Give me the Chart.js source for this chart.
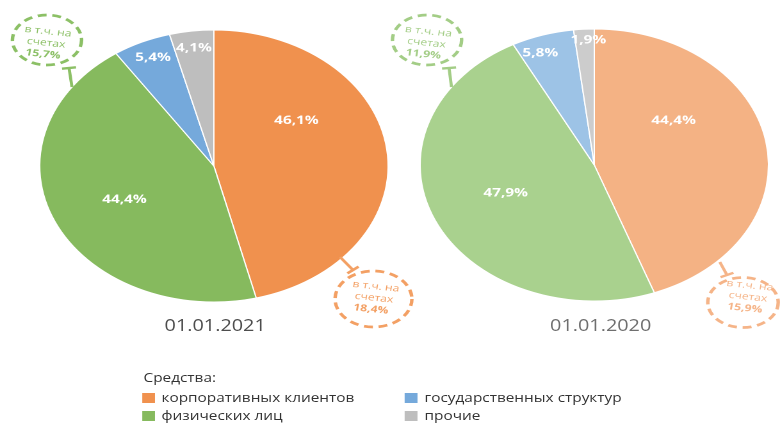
<!DOCTYPE html>
<html><head><meta charset="utf-8">
<script src="https://cdn.jsdelivr.net/npm/chart.js@4"></script>
<style>
html,body{margin:0;padding:0;background:#fff;overflow:hidden;width:780px;height:424px;}
#wrap{position:absolute;left:0;top:0;width:609px;height:424px;transform:scaleX(1.2808);transform-origin:0 0;font-family:'Open Sans',sans-serif;}
#wrap canvas{position:absolute;left:0;top:0;}
.date{position:absolute;width:200px;margin-left:-100px;text-align:center;font-size:15.5px;line-height:20px;top:315px;font-family:'Open Sans',sans-serif;}
.lt{position:absolute;font-size:12px;line-height:16px;color:#333;white-space:nowrap;}
.sw{position:absolute;width:10px;height:10px;}
</style></head>
<body>
<div id="wrap">
  <canvas id="c2021" width="609" height="340"></canvas>
  <canvas id="c2020" width="609" height="340"></canvas>
  <div class="date" id="d0" style="left:168px;color:#4d4d4d"></div>
  <div class="date" id="d1" style="left:469px;color:#6f6f6f"></div>
  <div id="legend"></div>
</div>
<script>
// ---- data ----
const categories = ['корпоративных клиентов', 'физических лиц', 'государственных структур', 'прочие'];
const periods = ['01.01.2021', '01.01.2020'];
const values2021 = [46.1, 44.4, 5.4, 4.1];
const values2020 = [44.4, 47.9, 5.8, 1.9];
const accountShares2021 = [18.4, 15.7, null, null];
const accountShares2020 = [15.9, 11.9, null, null];
const legendTitle = 'Средства:';
const calloutWords = ['в т.ч. на', 'счетах'];

// ---- styles ----
const colors2021 = ['#F0914E', '#86BA5E', '#75A9DB', '#BEBEBE'];
const colors2020 = ['#F4B284', '#A9D18E', '#9DC3E6', '#CCCCCC'];
const labelAngleFrac2021 = [0.33, 0.49, 0.54, 0.49];
const labelRadiusFrac2021 = [0.58, 0.57, 0.87, 0.875];
const labelAngleFrac2020 = [0.34, 0.51, 0.34, 0.69];
const labelRadiusFrac2020 = [0.56, 0.55, 0.88, 0.92];
const callouts2021 = [
  {idx: 1, cx: 36.7, cy: 40, rx: 27, ry: 25, s: [56.2, 87, 53.9, 68], tx: 36, ty: 43, color: '#8CC066'},
  {idx: 0, cx: 291.6, cy: 299, rx: 30, ry: 28, s: [265.5, 257, 275.6, 270], tx: 292, ty: 298, color: '#F3A064'}
];
const callouts2020 = [
  {idx: 1, cx: 333.4, cy: 40, rx: 27, ry: 25, s: [352.5, 87, 350.6, 68], tx: 333, ty: 43, color: '#A3CD86'},
  {idx: 0, cx: 580.1, cy: 302.5, rx: 27.5, ry: 25, s: [562, 262, 567.6, 275], tx: 584, ty: 297, color: '#F5B488'}
];

const fmt = v => v.toFixed(1).replace('.', ',') + '%';

const sliceLabels = {
  id: 'sliceLabels',
  afterDatasetsDraw(chart, args, opts) {
    const ctx = chart.ctx;
    const meta = chart.getDatasetMeta(0);
    const ds = chart.data.datasets[0];
    ctx.save();
    ctx.font = 'bold 12px "Open Sans"';
    ctx.fillStyle = '#fff';
    ctx.textAlign = 'center';
    ctx.textBaseline = 'middle';
    meta.data.forEach((arc, i) => {
      const p = arc.getProps(['x', 'y', 'startAngle', 'endAngle', 'outerRadius'], true);
      const a = p.startAngle + opts.angleFrac[i] * (p.endAngle - p.startAngle);
      const r = p.outerRadius * opts.radiusFrac[i];
      ctx.fillText(fmt(ds.data[i]), p.x + Math.cos(a) * r, p.y + Math.sin(a) * r);
    });
    // callouts
    opts.callouts.forEach(c => {
      ctx.save();
      ctx.strokeStyle = c.color;
      ctx.lineWidth = 2.7;
      ctx.setLineDash([7, 4.5]);
      ctx.beginPath();
      ctx.ellipse(c.cx, c.cy, c.rx, c.ry, 0, 0, Math.PI * 2);
      ctx.stroke();
      ctx.setLineDash([]);
      ctx.lineWidth = 2.4;
      const [x1, y1, x2, y2] = c.s;
      ctx.beginPath();
      ctx.moveTo(x1, y1); ctx.lineTo(x2, y2);
      const dx = x2 - x1, dy = y2 - y1, L = Math.hypot(dx, dy);
      const px = -dy / L * 5.5, py = dx / L * 5.5;
      ctx.moveTo(x2 + px, y2 + py); ctx.lineTo(x2 - px, y2 - py);
      ctx.stroke();
      ctx.translate(c.tx, c.ty);
      ctx.rotate(0.13);
      ctx.fillStyle = c.color;
      ctx.textAlign = 'center';
      ctx.textBaseline = 'middle';
      ctx.font = '9.5px "Open Sans"';
      ctx.fillText(calloutWords[0], 0, -11.5);
      ctx.fillText(calloutWords[1], 0, 0);
      ctx.font = 'bold 9.5px "Open Sans"';
      ctx.fillText(fmt(opts.shares[c.idx]), -1, 11.5);
      ctx.restore();
    });
    ctx.restore();
  }
};

function makePie(id, values, colors, pad, angleFrac, radiusFrac, callouts, shares) {
  return new Chart(document.getElementById(id), {
    type: 'pie',
    data: {
      labels: categories,
      datasets: [{data: values, backgroundColor: colors, borderColor: '#fff', borderWidth: 1}]
    },
    options: {
      responsive: false,
      animation: false,
      devicePixelRatio: 2,
      radius: 136,
      layout: {padding: pad},
      plugins: {
        legend: {display: false},
        tooltip: {enabled: false},
        sliceLabels: {angleFrac, radiusFrac, callouts, shares}
      }
    },
    plugins: [sliceLabels]
  });
}

makePie('c2021', values2021, colors2021, {left: 31, right: 306, top: 30, bottom: 38},
  labelAngleFrac2021, labelRadiusFrac2021, callouts2021, accountShares2021);
makePie('c2020', values2020, colors2020, {left: 328, right: 9, top: 29, bottom: 39},
  labelAngleFrac2020, labelRadiusFrac2020, callouts2020, accountShares2020);

document.getElementById('d0').textContent = periods[0];
document.getElementById('d1').textContent = periods[1];

// legend
const lg = document.getElementById('legend');
const t = document.createElement('div');
t.className = 'lt'; t.style.left = '112px'; t.style.top = '370px'; t.textContent = legendTitle;
lg.appendChild(t);
const colX = [110.6, 316], rowY = [398, 416];
categories.forEach((name, i) => {
  const col = i < 2 ? 0 : 1, row = i % 2;
  const sw = document.createElement('div');
  sw.className = 'sw';
  sw.style.left = colX[col] + 'px';
  sw.style.top = (rowY[row] - 5) + 'px';
  sw.style.background = colors2021[i];
  lg.appendChild(sw);
  const tx = document.createElement('div');
  tx.className = 'lt';
  tx.style.left = (colX[col] + 15.5) + 'px';
  tx.style.top = (rowY[row] - 8) + 'px';
  tx.textContent = name;
  lg.appendChild(tx);
});
</script>
</body></html>
